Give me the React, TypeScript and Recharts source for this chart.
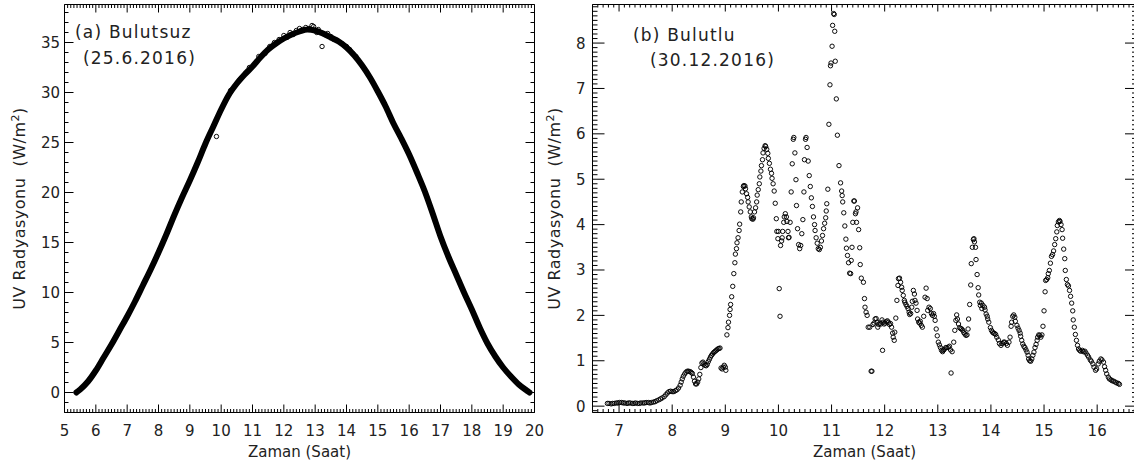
import React from 'react';
import { ComposedChart, Line, Scatter, XAxis, YAxis } from 'recharts';

const FONT = '"DejaVu Sans", "Liberation Sans", sans-serif';

// ---------- Panel (a): clear sky, 25.6.2016 ----------
const clearHours = [5.38, 5.5, 5.75, 6.0, 6.25, 6.5, 6.75, 7.0, 7.25, 7.5, 7.75, 8.0, 8.25, 8.5, 8.75, 9.0, 9.25, 9.5, 9.75, 10.0, 10.25, 10.5, 10.75, 11.0, 11.25, 11.5, 11.75, 12.0, 12.25, 12.5, 12.75, 13.0, 13.25, 13.5, 13.75, 14.0, 14.25, 14.5, 14.75, 15.0, 15.25, 15.5, 15.75, 16.0, 16.25, 16.5, 16.75, 17.0, 17.25, 17.5, 17.75, 18.0, 18.25, 18.5, 18.75, 19.0, 19.25, 19.5, 19.75, 19.84];
const clearUV = [0, 0.3, 1.1, 2.2, 3.5, 4.8, 6.2, 7.6, 9.1, 10.7, 12.3, 14.0, 15.8, 17.7, 19.5, 21.2, 23.0, 24.9, 26.6, 28.3, 29.8, 30.9, 31.8, 32.6, 33.5, 34.3, 34.9, 35.4, 35.8, 36.1, 36.3, 36.2, 35.9, 35.5, 35.1, 34.5, 33.7, 32.7, 31.5, 30.1, 28.6, 26.9, 25.4, 23.8, 22.0, 20.1, 17.9, 15.6, 13.6, 11.8, 10.0, 8.3, 6.5, 4.9, 3.6, 2.5, 1.6, 0.8, 0.2, 0];
const clearScatterPoints: [number, number][] = [
  [9.85, 25.6], [10.3, 30.2], [10.6, 31.3], [10.9, 32.5], [11.2, 33.6], [11.4, 33.9], [11.55, 34.6], [11.7, 35.0],
  [11.85, 35.3], [12.0, 35.7], [12.1, 35.5], [12.2, 36.0], [12.3, 35.8], [12.4, 36.2], [12.5, 36.4], [12.6, 36.3],
  [12.7, 36.5], [12.8, 36.4], [12.9, 36.7], [12.95, 36.6], [13.05, 36.0], [13.1, 36.3], [13.22, 34.6], [13.3, 35.8],
  [13.4, 35.9], [13.5, 35.6], [13.6, 35.3], [13.7, 35.2], [13.85, 34.9], [14.0, 34.6], [14.1, 34.3], [14.2, 33.9], [14.3, 33.6],
];

// ---------- Panel (b): cloudy, 30.12.2016 ----------
const cloudyEarly: [number, number][] = [
  [6.78, 0.06], [6.81, 0.06], [6.85, 0.05], [6.88, 0.06], [6.91, 0.06], [6.95, 0.07], [6.98, 0.07], [7.01, 0.08], [7.05, 0.08],
  [7.08, 0.07], [7.11, 0.07], [7.15, 0.06], [7.18, 0.07], [7.21, 0.07], [7.25, 0.06], [7.28, 0.06], [7.31, 0.07], [7.35, 0.06],
  [7.38, 0.06], [7.41, 0.07], [7.45, 0.07], [7.48, 0.07], [7.51, 0.08], [7.55, 0.08], [7.58, 0.07], [7.61, 0.08], [7.65, 0.09],
  [7.68, 0.1], [7.71, 0.12], [7.75, 0.14], [7.78, 0.16], [7.81, 0.18], [7.85, 0.21], [7.88, 0.25], [7.91, 0.29], [7.94, 0.32],
  [7.97, 0.33], [8.0, 0.32], [8.03, 0.32], [8.06, 0.34], [8.09, 0.36], [8.12, 0.4], [8.15, 0.46], [8.17, 0.53], [8.19, 0.6],
  [8.21, 0.66], [8.235, 0.71], [8.26, 0.75], [8.285, 0.77], [8.31, 0.77], [8.34, 0.76], [8.36, 0.74], [8.38, 0.72], [8.4, 0.64],
  [8.42, 0.55], [8.44, 0.49], [8.46, 0.49], [8.48, 0.53], [8.5, 0.6], [8.52, 0.7], [8.54, 0.85], [8.56, 0.95], [8.58, 0.97],
  [8.6, 0.93], [8.62, 0.9], [8.64, 0.89], [8.66, 0.92], [8.68, 0.98], [8.7, 1.03], [8.72, 1.08], [8.74, 1.12], [8.76, 1.15],
  [8.78, 1.18], [8.8, 1.2], [8.82, 1.22], [8.84, 1.24], [8.86, 1.26], [8.88, 1.27], [8.9, 1.28], [8.92, 0.84], [8.94, 0.82],
  [8.96, 0.86], [8.98, 0.9], [9.0, 0.86], [9.01, 0.79],
];
const cloudyMorning: [number, number][] = [
  [9.03, 1.57], [9.05, 1.73], [9.06, 1.85], [9.08, 2.0], [9.09, 2.13], [9.1, 2.24], [9.12, 2.41], [9.14, 2.64], [9.16, 2.92],
  [9.18, 3.16], [9.19, 3.35], [9.21, 3.47], [9.22, 3.6], [9.24, 3.71], [9.26, 3.87], [9.27, 4.01], [9.29, 4.28], [9.3, 4.5],
  [9.32, 4.72], [9.34, 4.84], [9.35, 4.86], [9.37, 4.85], [9.38, 4.79], [9.4, 4.68], [9.42, 4.6], [9.43, 4.5], [9.45, 4.39],
  [9.47, 4.28], [9.49, 4.17], [9.5, 4.13], [9.52, 4.12], [9.53, 4.15], [9.55, 4.28], [9.57, 4.37], [9.59, 4.5], [9.6, 4.65],
  [9.62, 4.77], [9.64, 4.9], [9.65, 5.05], [9.67, 5.18], [9.68, 5.3], [9.7, 5.43], [9.71, 5.58], [9.73, 5.68], [9.75, 5.74],
  [9.76, 5.72], [9.78, 5.66], [9.8, 5.57], [9.81, 5.46], [9.83, 5.35], [9.85, 5.22], [9.87, 5.13], [9.88, 5.02], [9.9, 4.9],
  [9.92, 4.74], [9.94, 4.47], [9.96, 4.13], [9.97, 3.85], [9.99, 3.69], [10.0, 3.85], [10.015, 2.59], [10.03, 1.98], [10.04, 3.54],
  [10.06, 3.64], [10.07, 3.71], [10.08, 3.85], [10.1, 4.05], [10.11, 4.17], [10.13, 4.24], [10.15, 4.17], [10.16, 4.07],
  [10.18, 3.85], [10.19, 3.71], [10.2, 3.72], [10.22, 4.05], [10.24, 4.72], [10.26, 5.34], [10.28, 5.88], [10.29, 5.92],
  [10.31, 5.58], [10.33, 4.99], [10.34, 4.42], [10.36, 3.91], [10.38, 3.56], [10.4, 3.47], [10.42, 3.54], [10.44, 3.8],
  [10.46, 4.11], [10.48, 4.72], [10.49, 5.43], [10.51, 5.88], [10.52, 5.92], [10.54, 5.7], [10.56, 5.4], [10.58, 5.08],
  [10.6, 4.84], [10.62, 4.59], [10.64, 4.4], [10.66, 4.17], [10.68, 4.0], [10.69, 3.87], [10.71, 3.71], [10.73, 3.59],
  [10.75, 3.47], [10.77, 3.45], [10.79, 3.5], [10.81, 3.64], [10.83, 3.76], [10.85, 3.91], [10.87, 4.03], [10.89, 4.15],
  [10.9, 4.3], [10.91, 4.46], [10.93, 4.78], [10.95, 6.21], [10.97, 7.08], [10.98, 7.5], [10.99, 7.56], [11.01, 7.93],
  [11.02, 8.39], [11.04, 8.65], [11.05, 8.63], [11.06, 8.26], [11.07, 7.6], [11.09, 6.77], [11.11, 5.97],
];
const cloudyMidday: [number, number][] = [
  [11.14, 5.3], [11.17, 4.92], [11.19, 4.74], [11.2, 4.64], [11.21, 4.5], [11.23, 4.26], [11.25, 3.97], [11.27, 3.68],
  [11.28, 3.48], [11.3, 3.32], [11.32, 3.16], [11.34, 2.93], [11.36, 2.92], [11.37, 3.21], [11.385, 3.5], [11.4, 4.05],
  [11.42, 4.52], [11.43, 4.52], [11.45, 4.24], [11.46, 4.28], [11.47, 4.05], [11.49, 4.37], [11.51, 3.89], [11.53, 3.49],
  [11.54, 3.12], [11.56, 2.82], [11.6, 2.73], [11.62, 2.37], [11.63, 2.18], [11.65, 2.07], [11.67, 2.0], [11.69, 1.74],
  [11.72, 1.74], [11.745, 0.77], [11.76, 0.77], [11.78, 1.8], [11.8, 1.83], [11.82, 1.92], [11.84, 1.93], [11.86, 1.85],
  [11.87, 1.74], [11.89, 1.8], [11.91, 1.83], [11.93, 1.81], [11.95, 1.9], [11.96, 1.23], [11.97, 1.85], [11.99, 1.81],
  [12.01, 1.83], [12.03, 1.86], [12.05, 1.88], [12.07, 1.85], [12.09, 1.8], [12.11, 1.82], [12.13, 1.74], [12.15, 1.61],
  [12.16, 1.52], [12.18, 1.45], [12.19, 1.63], [12.21, 1.94], [12.23, 2.33], [12.25, 2.66], [12.26, 2.81], [12.28, 2.82],
  [12.3, 2.73], [12.32, 2.62], [12.33, 2.55], [12.35, 2.44], [12.37, 2.33], [12.38, 2.29], [12.4, 2.24], [12.42, 2.2],
  [12.44, 2.15], [12.46, 2.07], [12.47, 2.02], [12.49, 2.04], [12.51, 2.18], [12.52, 2.31], [12.54, 2.55], [12.56, 2.47],
  [12.57, 2.33], [12.59, 2.27], [12.61, 2.11], [12.62, 1.92], [12.64, 1.85], [12.66, 1.83], [12.67, 1.87], [12.69, 1.78],
  [12.71, 1.74], [12.735, 1.98], [12.76, 2.4], [12.78, 2.6], [12.8, 2.37], [12.81, 2.11], [12.835, 2.18], [12.86, 2.15],
  [12.88, 2.04], [12.9, 2.0], [12.92, 2.04], [12.935, 1.98], [12.95, 1.89], [12.97, 1.7], [12.99, 1.55], [13.01, 1.41],
  [13.03, 1.35], [13.05, 1.29], [13.07, 1.23], [13.09, 1.2], [13.105, 1.23], [13.12, 1.25], [13.15, 1.29], [13.17, 1.29],
  [13.2, 1.3], [13.22, 1.32], [13.24, 1.24], [13.25, 0.73], [13.27, 1.2], [13.3, 1.41], [13.32, 1.67], [13.34, 1.89],
  [13.355, 2.01], [13.37, 1.92], [13.39, 1.81], [13.41, 1.73], [13.43, 1.71], [13.45, 1.7], [13.47, 1.67], [13.49, 1.62],
  [13.51, 1.59], [13.53, 1.56], [13.55, 1.57], [13.57, 1.7], [13.58, 1.92], [13.6, 2.24], [13.62, 2.67], [13.63, 3.14],
  [13.65, 3.5], [13.67, 3.67], [13.68, 3.69], [13.69, 3.62], [13.71, 3.5], [13.72, 3.23], [13.74, 2.9], [13.76, 2.61],
  [13.77, 2.45], [13.79, 2.29], [13.8, 2.22],
];
const cloudyAfternoon: [number, number][] = [
  [13.82, 2.27], [13.83, 2.15], [13.85, 2.22], [13.88, 2.18], [13.89, 2.12], [13.91, 2.03], [13.93, 1.98], [13.94, 1.92],
  [13.96, 1.85], [13.99, 1.73], [14.01, 1.67], [14.03, 1.63], [14.05, 1.61], [14.07, 1.6], [14.09, 1.58], [14.11, 1.52],
  [14.14, 1.46], [14.16, 1.38], [14.19, 1.34], [14.21, 1.38], [14.24, 1.41], [14.26, 1.41], [14.29, 1.38], [14.31, 1.34],
  [14.34, 1.41], [14.36, 1.52], [14.38, 1.76], [14.39, 1.85], [14.41, 1.98], [14.43, 2.01], [14.45, 1.96], [14.46, 1.87],
  [14.49, 1.78], [14.51, 1.72], [14.53, 1.67], [14.55, 1.61], [14.56, 1.54], [14.58, 1.45], [14.6, 1.37], [14.62, 1.32],
  [14.64, 1.29], [14.66, 1.24], [14.68, 1.19], [14.7, 1.12], [14.71, 1.04], [14.73, 1.0], [14.75, 0.99], [14.77, 1.04],
  [14.79, 1.12], [14.81, 1.19], [14.83, 1.29], [14.85, 1.36], [14.87, 1.45], [14.88, 1.52], [14.9, 1.57], [14.92, 1.56],
  [14.94, 1.52], [14.96, 1.57], [14.98, 1.76], [15.0, 2.1], [15.02, 2.52], [15.03, 2.77], [15.05, 2.79], [15.07, 2.83],
  [15.08, 2.92], [15.1, 2.99], [15.12, 3.15], [15.14, 3.3], [15.16, 3.34], [15.18, 3.42], [15.2, 3.56], [15.22, 3.69],
  [15.24, 3.84], [15.25, 3.98], [15.27, 4.06], [15.29, 4.09], [15.3, 4.07], [15.32, 4.0], [15.34, 3.89], [15.35, 3.7],
  [15.37, 3.46], [15.39, 3.25], [15.4, 2.99], [15.42, 2.79], [15.44, 2.68], [15.46, 2.65], [15.48, 2.55], [15.5, 2.42],
  [15.52, 2.27], [15.54, 2.1], [15.55, 1.9], [15.57, 1.74], [15.59, 1.58], [15.61, 1.45], [15.63, 1.34], [15.65, 1.26],
  [15.67, 1.23], [15.69, 1.21], [15.72, 1.23], [15.74, 1.2], [15.77, 1.21], [15.79, 1.17], [15.82, 1.12], [15.84, 1.08],
  [15.87, 1.02], [15.89, 0.99], [15.92, 0.93], [15.94, 0.86], [15.97, 0.79], [15.99, 0.82], [16.02, 0.93], [16.04, 0.99],
  [16.07, 1.04], [16.09, 1.02], [16.12, 0.97], [16.14, 0.87], [16.16, 0.79], [16.18, 0.71], [16.21, 0.64], [16.23, 0.6],
  [16.26, 0.58], [16.28, 0.56], [16.31, 0.55], [16.34, 0.53], [16.37, 0.51], [16.4, 0.5], [16.42, 0.48],
];

// ---------- tick positions ----------
const range = (start: number, count: number, step: number) =>
  Array.from({ length: count }, (_, i) => Math.round((start + i * step) * 1000) / 1000);
const leftXTicks = range(5, 151, 0.1);
const leftYTicks = range(-2, 41, 1);
const rightXTicks = range(6.5, 103, 0.1);
const rightYTicks = range(-0.1, 90, 0.1);

const isInt = (v: number) => Math.abs(v - Math.round(v)) < 1e-6;
const isFive = (v: number) => isInt(v) && Math.round(v) % 5 === 0;

const clearLineData = clearHours.slice(0, Math.min(clearHours.length, clearUV.length)).map((t, i) => ({ t, v: clearUV[i] }));
const clearScatterData = clearScatterPoints.map(([t, v]) => ({ t, v }));
const cloudyData = [...cloudyEarly, ...cloudyMorning, ...cloudyMidday, ...cloudyAfternoon].map(([t, v]) => ({ t, v }));

type Side = 'bottom' | 'top' | 'left' | 'right';
function makeTick(side: Side, isMajor: (v: number) => boolean, majorLen: number, minorLen: number, showLabel: boolean, labelGap = 5) {
  return (props: any) => {
    const { x, y, payload } = props;
    const v = Number(payload.value);
    const major = isMajor(v);
    const len = major ? majorLen : minorLen;
    let x2 = x;
    let y2 = y;
    if (side === 'bottom') y2 = y - len;
    else if (side === 'top') y2 = y + len;
    else if (side === 'left') x2 = x + len;
    else x2 = x - len;
    return (
      <g>
        <line x1={x} y1={y} x2={x2} y2={y2} stroke="#000" strokeWidth={1} />
        {major && showLabel && side === 'bottom' && (
          <text x={x} y={y + 23.5} textAnchor="middle" fontFamily={FONT} fontSize={15} fill="#222">
            {Math.round(v)}
          </text>
        )}
        {major && showLabel && side === 'left' && (
          <text x={x - labelGap} y={y + 5.5} textAnchor="end" fontFamily={FONT} fontSize={15} fill="#222">
            {Math.round(v)}
          </text>
        )}
      </g>
    );
  };
}

const Ring = (p: any) => (
  <circle cx={p.cx} cy={p.cy} r={2.2} fill="none" stroke="#000" strokeWidth={0.95} />
);

const axisLine = { stroke: '#000', strokeWidth: 1 };

function ClearPanel() {
  return (
    <ComposedChart width={545} height={470} margin={{ top: 3.5, right: 9.5, bottom: 0, left: 0 }}>
      <XAxis xAxisId="b" dataKey="t" type="number" domain={[5, 20]} ticks={leftXTicks} interval={0} allowDataOverflow
        tickSize={0} tickMargin={0} tickLine={false} height={57.5} axisLine={axisLine}
        tick={makeTick('bottom', isInt, 8, 3.5, true)} />
      <XAxis xAxisId="t" dataKey="t" orientation="top" type="number" domain={[5, 20]} ticks={leftXTicks} interval={0} allowDataOverflow
        tickSize={0} tickMargin={0} tickLine={false} height={1} axisLine={axisLine}
        tick={makeTick('top', isInt, 8, 3.5, false)} />
      <YAxis yAxisId="l" type="number" domain={[-2, 38.8]} ticks={leftYTicks} interval={0} allowDataOverflow
        tickSize={0} tickMargin={0} tickLine={false} width={64.5} axisLine={axisLine}
        tick={makeTick('left', isFive, 9, 4, true, 4.5)} />
      <YAxis yAxisId="r" orientation="right" type="number" domain={[-2, 38.8]} ticks={leftYTicks} interval={0} allowDataOverflow
        tickSize={0} tickMargin={0} tickLine={false} width={1} axisLine={axisLine}
        tick={makeTick('right', isFive, 9, 4, false)} />
      <Line xAxisId="b" yAxisId="l" data={clearLineData} dataKey="v" type="monotone" stroke="#000" strokeWidth={6}
        strokeLinecap="round" dot={false} activeDot={false} isAnimationActive={false} />
      <Scatter xAxisId="b" yAxisId="l" data={clearScatterData} dataKey="v" shape={Ring} isAnimationActive={false} />
    </ComposedChart>
  );
}

function CloudyPanel() {
  return (
    <ComposedChart width={600} height={470} margin={{ top: 3.5, right: 7, bottom: 0, left: 0 }}>
      <XAxis xAxisId="b" dataKey="t" type="number" domain={[6.5, 16.75]} ticks={rightXTicks} interval={0} allowDataOverflow
        tickSize={0} tickMargin={0} tickLine={false} height={57.5} axisLine={axisLine}
        tick={makeTick('bottom', isInt, 8, 3.5, true)} />
      <XAxis xAxisId="t" dataKey="t" orientation="top" type="number" domain={[6.5, 16.75]} ticks={rightXTicks} interval={0} allowDataOverflow
        tickSize={0} tickMargin={0} tickLine={false} height={1} axisLine={axisLine}
        tick={makeTick('top', isInt, 7, 3, false)} />
      <YAxis yAxisId="l" type="number" domain={[-0.14, 8.85]} ticks={rightYTicks} interval={0} allowDataOverflow
        tickSize={0} tickMargin={0} tickLine={false} width={47.5} axisLine={axisLine}
        tick={makeTick('left', isInt, 12, 5, true, 7)} />
      <YAxis yAxisId="r" orientation="right" type="number" domain={[-0.14, 8.85]} ticks={rightYTicks} interval={0} allowDataOverflow
        tickSize={0} tickMargin={0} tickLine={false} width={1} axisLine={axisLine}
        tick={makeTick('right', isInt, 12, 5, false)} />
      <Scatter xAxisId="b" yAxisId="l" data={cloudyData} dataKey="v" shape={Ring} isAnimationActive={false} />
    </ComposedChart>
  );
}

const textStyle = { fontFamily: FONT, fill: '#222' } as const;

export default function App() {
  return (
    <div style={{ position: 'absolute', left: 0, top: 0, width: 1134, height: 470, overflow: 'hidden', background: '#fff' }}>
      <div style={{ position: 'absolute', left: 0, top: 0 }}>
        <ClearPanel />
      </div>
      <div style={{ position: 'absolute', left: 545, top: 0 }}>
        <CloudyPanel />
      </div>
      <svg width={1134} height={470} style={{ position: 'absolute', left: 0, top: 0, pointerEvents: 'none' }}>
        <text x={75} y={37.5} fontSize={17} letterSpacing={1.2} {...textStyle}>(a) Bulutsuz</text>
        <text x={83} y={64} fontSize={17} letterSpacing={1.2} {...textStyle}>(25.6.2016)</text>
        <text x={633} y={41} fontSize={17} letterSpacing={1.2} {...textStyle}>(b) Bulutlu</text>
        <text x={650} y={66} fontSize={17} letterSpacing={1.2} {...textStyle}>(30.12.2016)</text>
        <text x={299.5} y={457} fontSize={15} textAnchor="middle" {...textStyle}>Zaman (Saat)</text>
        <text x={864.5} y={457} fontSize={15} textAnchor="middle" {...textStyle}>Zaman (Saat)</text>
        <text x={25} y={208.5} fontSize={16} letterSpacing={0.5} textAnchor="middle" transform="rotate(-90 25 208.5)" {...textStyle}>
          UV Radyasyonu{'\u00a0\u00a0'}(W/m<tspan dy={-6} fontSize={11}>2</tspan><tspan dy={6}>)</tspan>
        </text>
        <text x={560} y={208.5} fontSize={16} letterSpacing={0.5} textAnchor="middle" transform="rotate(-90 560 208.5)" {...textStyle}>
          UV Radyasyonu{'\u00a0\u00a0'}(W/m<tspan dy={-6} fontSize={11}>2</tspan><tspan dy={6}>)</tspan>
        </text>
      </svg>
    </div>
  );
}
